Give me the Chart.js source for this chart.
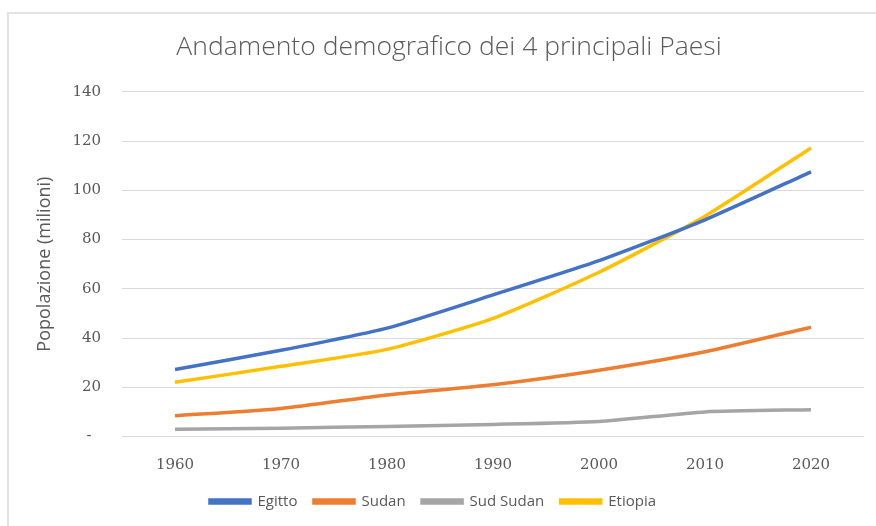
<!DOCTYPE html>
<html>
<head>
<meta charset="utf-8">
<script src="https://cdn.jsdelivr.net/npm/chart.js@4/dist/chart.umd.min.js"></script>
<style>
  html, body { margin: 0; padding: 0; background: #fff; }
  #wrap { position: relative; width: 876px; height: 526px; }
  #frame { position: absolute; left: 7px; top: 12px; right: -2px; bottom: -2px; border: 2px solid #e3e3e3; }
  canvas { position: absolute; left: 0; top: 0; }
</style>
</head>
<body>
<div id="wrap">
  <div id="frame"></div>
  <canvas id="chart" width="876" height="526"></canvas>
</div>
<script>
// anni
var anni = ['1960', '1970', '1980', '1990', '2000', '2010', '2020'];

// popolazione in milioni
var egitto = [27.2, 35.0, 44.0, 57.5, 71.4, 88.0, 107.5];
var sudan = [8.4, 11.4, 16.9, 21.0, 26.9, 34.4, 44.4];
var sudSudan = [2.9, 3.4, 4.1, 4.9, 6.1, 10.0, 10.9];
var etiopia = [22.0, 28.5, 35.4, 48.0, 66.7, 89.5, 117.2];

var yTicks = [0, 20, 40, 60, 80, 100, 120, 140];

var grigio = '#595959';

function serie(label, data, colore) {
    return {
        label: label,
        data: data,
        borderColor: colore,
        backgroundColor: colore,
        borderWidth: 3.5,
        pointRadius: 0,
        tension: 0.2,
        fill: false
    };
}

// sposta la legenda un po' a sinistra, come nell'originale
var spostaLegenda = {
    id: 'spostaLegenda',
    afterLayout: function(chart) {
        chart.legend.left -= 16;
        chart.legend.right -= 16;
    }
};

var ctx = document.getElementById('chart').getContext('2d');
var myChart = new Chart(ctx, {
    type: 'line',
    data: {
        labels: anni,
        datasets: [
            serie('Egitto', egitto, '#4472C4'),
            serie('Sudan', sudan, '#ED7D31'),
            serie('Sud Sudan', sudSudan, '#A5A5A5'),
            serie('Etiopia', etiopia, '#FFC000')
        ]
    },
    plugins: [spostaLegenda],
    options: {
        responsive: false,
        animation: false,
        layout: { padding: { left: 34, right: 12, top: 32, bottom: 7 } },
        plugins: {
            title: {
                display: true,
                text: 'Andamento demografico dei 4 principali Paesi',
                color: grigio,
                font: { family: 'Open Sans', size: 26.5, weight: '300' },
                padding: { top: 0, bottom: 28 }
            },
            legend: {
                position: 'bottom',
                labels: {
                    color: grigio,
                    font: { family: 'Open Sans', size: 15 },
                    boxWidth: 40,
                    boxHeight: 3,
                    padding: 16.5
                }
            },
            tooltip: { enabled: false }
        },
        scales: {
            x: {
                offset: true,
                grid: { display: false },
                border: { display: false },
                afterFit: function(axis) { axis.height -= 9; },
                ticks: {
                    color: grigio,
                    font: { family: 'DejaVu Serif', size: 15 },
                    padding: 12
                }
            },
            y: {
                min: 0,
                max: 140,
                afterBuildTicks: function(axis) {
                    axis.ticks = yTicks.map(function(v) { return { value: v }; });
                },
                afterFit: function(axis) { axis.width -= 21; },
                grid: { color: '#d9d9d9', lineWidth: 1, drawTicks: false },
                border: { display: false },
                title: {
                    display: true,
                    text: 'Popolazione (milioni)',
                    color: grigio,
                    font: { family: 'Open Sans', size: 18 },
                    padding: { top: 0, bottom: 16.8 }
                },
                ticks: {
                    color: grigio,
                    font: { family: 'DejaVu Serif', size: 15 },
                    padding: 21,
                    callback: function(v) { return v === 0 ? '-  ' : v; }
                }
            }
        }
    }
});
</script>
</body>
</html>
